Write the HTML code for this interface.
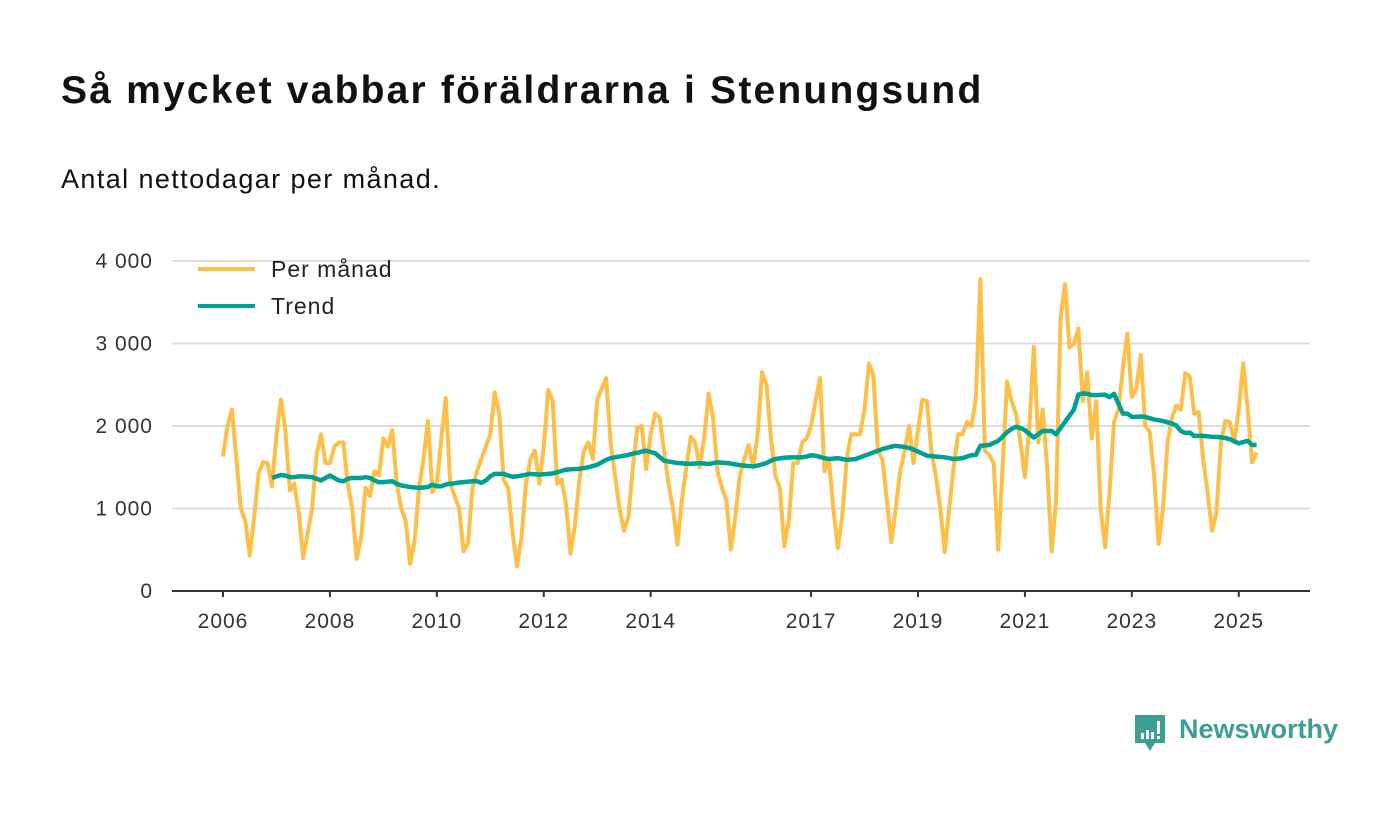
<!DOCTYPE html>
<html><head><meta charset="utf-8">
<style>
body{margin:0;background:#fff;width:1400px;height:813px;overflow:hidden;font-family:"Liberation Sans",sans-serif;color:#111;}
#title{position:absolute;left:61px;top:69px;font-size:39px;letter-spacing:2.2px;font-weight:bold;margin:0;white-space:nowrap;}
#sub{position:absolute;left:61px;top:164px;font-size:27px;letter-spacing:1.4px;white-space:nowrap;}
svg{position:absolute;left:0;top:0;}
</style></head><body>
<h1 id="title">Så mycket vabbar föräldrarna i Stenungsund</h1>
<div id="sub">Antal nettodagar per månad.</div>
<svg id="chart" width="1400" height="813"></svg>
<script>
const startYear = 2006;
const monthly = [
1630,2000,2200,1600,1000,850,430,900,1430,1560,1550,1270,
1900,2320,1950,1220,1300,950,400,700,1000,1650,1900,1550,
1550,1750,1800,1800,1300,1000,390,650,1250,1150,1450,1400,
1850,1750,1950,1300,1000,850,330,600,1250,1600,2060,1200,
1300,1850,2340,1300,1150,1000,480,580,1250,1450,1600,1750,
1900,2410,2150,1350,1250,700,300,650,1300,1600,1700,1300,
1750,2440,2300,1300,1350,1050,450,800,1350,1700,1800,1600,
2320,2450,2580,1800,1400,1000,730,900,1500,1980,2000,1480,
1900,2150,2100,1700,1300,1000,560,1100,1500,1870,1800,1500,
1850,2390,2100,1450,1250,1100,500,900,1400,1600,1770,1500,
1900,2650,2500,1850,1400,1250,540,850,1550,1550,1800,1850,
2000,2300,2580,1450,1600,1000,520,900,1600,1900,1900,1900,
2200,2760,2600,1700,1600,1100,590,1000,1450,1700,2000,1550,
1950,2320,2300,1700,1400,1000,470,1000,1500,1900,1900,2050,
2000,2350,3780,1700,1650,1550,500,1500,2540,2300,2150,1800,
1380,2000,2960,1800,2200,1500,480,1100,3300,3720,2950,3000,
3180,2300,2650,1850,2300,1000,530,1200,2050,2200,2700,3120,
2350,2450,2860,2000,1930,1400,570,1000,1800,2100,2250,2200,
2640,2600,2150,2170,1600,1200,730,950,1800,2060,2050,1800,
2200,2760,2200,1560,1680];
const trendStart = 11;
const trend = [
1370,1390,1405,1400,1380,1380,1390,1390,1385,1380,1360,1340,1370,1400,1370,1340,1330,1360,1370,1370,
1370,1380,1370,1340,1320,1320,1325,1330,1300,1280,1270,1260,1255,1250,1255,1260,1290,1270,1270,1290,
1300,1305,1315,1320,1325,1330,1330,1310,1340,1390,1420,1420,1420,1400,1385,1390,1400,1410,1420,1415,
1410,1415,1420,1425,1440,1455,1470,1475,1478,1480,1490,1500,1515,1530,1560,1590,1610,1620,1630,1640,
1650,1665,1675,1690,1700,1685,1670,1625,1580,1570,1560,1552,1548,1542,1542,1546,1550,1545,1540,1550,
1560,1555,1552,1545,1535,1525,1520,1515,1510,1520,1535,1550,1580,1600,1608,1615,1620,1620,1620,1620,
1630,1645,1640,1625,1610,1600,1605,1610,1600,1590,1595,1598,1620,1640,1660,1680,1700,1720,1735,1750,
1760,1752,1745,1735,1715,1690,1665,1640,1635,1630,1625,1620,1610,1600,1605,1610,1630,1645,1650,1760,
1765,1770,1795,1820,1870,1925,1965,1990,1975,1950,1905,1860,1900,1940,1940,1940,1900,1975,2050,2125,
2200,2380,2395,2390,2375,2374,2377,2380,2350,2390,2270,2150,2150,2110,2110,2115,2110,2095,2080,2070,
2060,2045,2030,2005,1940,1915,1920,1880,1880,1880,1875,1870,1868,1862,1855,1840,1815,1790,1805,1820,
1770,1770];
const yTicks=[0,1000,2000,3000,4000];
const yTickLabels=["0","1 000","2 000","3 000","4 000"];
const xTickYears=[2006,2008,2010,2012,2014,2017,2019,2021,2023,2025];

const NS="http://www.w3.org/2000/svg";
const svg=document.getElementById('chart');
const X0=223, PXM=4.455, Y0=591, PXV=0.0825;
function xm(i){return X0+i*PXM;}
function yv(v){return Y0-v*PXV;}
function mk(t,a){const e=document.createElementNS(NS,t);for(const k in a)e.setAttribute(k,a[k]);svg.appendChild(e);return e;}

yTicks.forEach((v,i)=>{
  if(v>0){const g=mk('line',{x1:172,x2:1310,y1:yv(v),y2:yv(v),stroke:'#dcdcdc','stroke-width':2});
  
  }
  const t=mk('text',{x:153,y:yv(v)+7,'text-anchor':'end','font-size':21,'letter-spacing':1,fill:'#333','font-family':'Liberation Sans, sans-serif'});
  t.textContent=yTickLabels[i];
  
  
});
const ax=mk('line',{x1:172,x2:1310,y1:Y0,y2:Y0,stroke:'#333','stroke-width':2});


xTickYears.forEach(yr=>{
  const x=xm((yr-startYear)*12);
  const tk=mk('line',{x1:x,x2:x,y1:Y0,y2:Y0+6,stroke:'#333','stroke-width':2});
  
  
  const t=mk('text',{x:x,y:628,'text-anchor':'middle','font-size':21,'letter-spacing':1,fill:'#333','font-family':'Liberation Sans, sans-serif'});
  t.textContent=yr;
  
  
});
const p1=mk('polyline',{points:monthly.map((v,i)=>xm(i)+','+yv(v)).join(' '),fill:'none',stroke:'#fdbf47','stroke-width':4,'stroke-linejoin':'round'});


const p2=mk('polyline',{points:trend.map((v,i)=>xm(i+trendStart)+','+yv(v)).join(' '),fill:'none',stroke:'#00a092','stroke-width':4.5,'stroke-linejoin':'round'});



[['Per månad','#fdbf47',269],['Trend','#00a092',306]].forEach(([lab,c,y])=>{
  const l=mk('line',{x1:198,x2:255,y1:y,y2:y,stroke:c,'stroke-width':4});
  
  
  const t=mk('text',{x:271,y:y+8,'font-size':23,'letter-spacing':1,fill:'#222','font-family':'Liberation Sans, sans-serif'});
  t.textContent=lab;
  
  
});
</script>
<div style="position:absolute;left:1133px;top:713px;width:210px;height:42px;">
<svg width="34" height="42" style="position:absolute;left:0;top:0">
<path d="M2 2 H32 V30 H22 L17 38 L12 30 H2 Z" fill="#3e9d95"/>
<rect x="8" y="20" width="3" height="6" fill="#fff"/><rect x="13" y="17" width="3" height="9" fill="#fff"/><rect x="18" y="19" width="3" height="7" fill="#fff"/><rect x="24" y="8" width="3" height="13" fill="#fff"/><rect x="24" y="23" width="3" height="3" fill="#fff"/>
</svg>
<div style="position:absolute;left:46px;top:1px;font-size:27px;font-weight:bold;color:#3e9d95;">Newsworthy</div>
</div>
</body></html>
